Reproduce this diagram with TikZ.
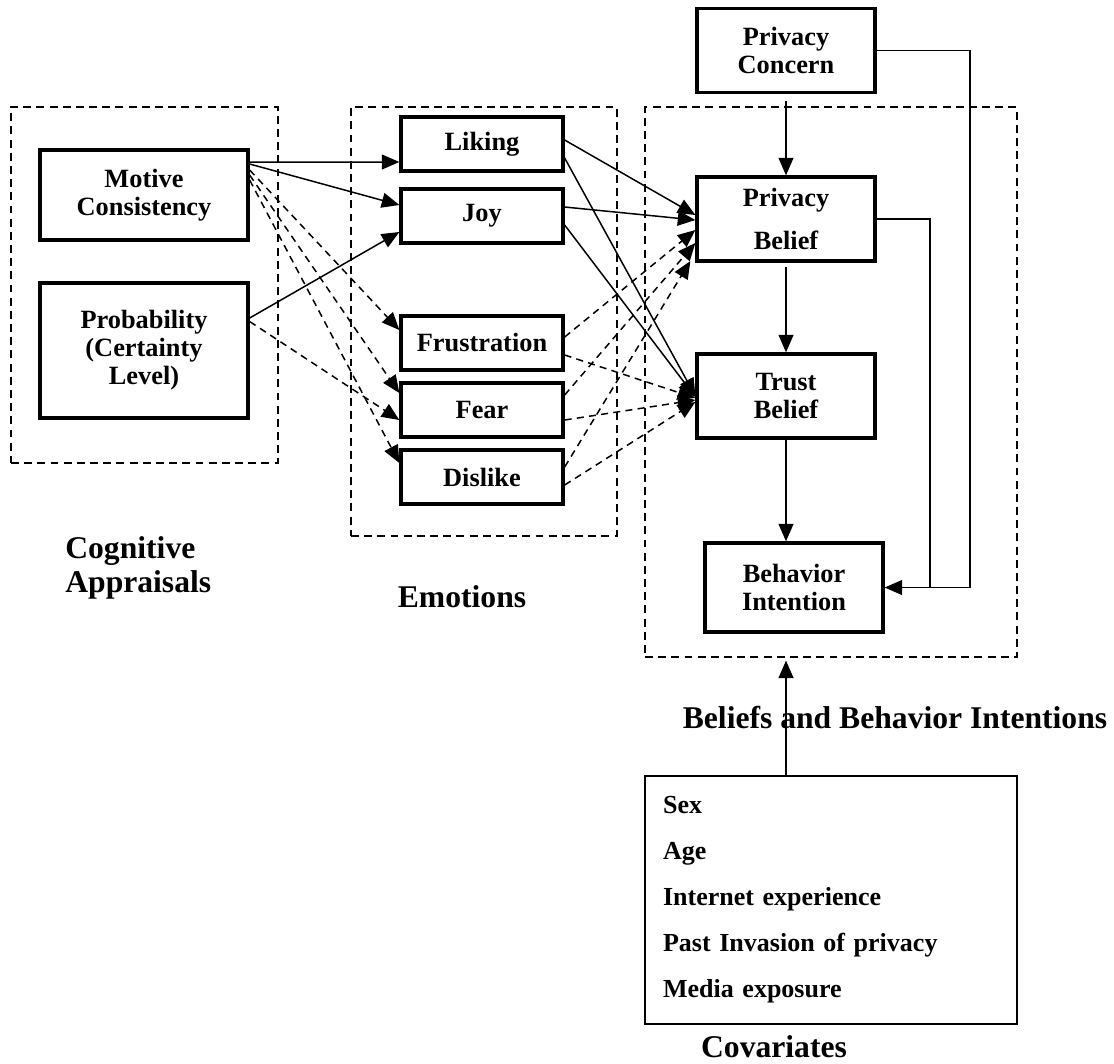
\documentclass[tikz,border=0pt]{standalone}
\usepackage{fontspec}
\setmainfont{Liberation Serif}
\usetikzlibrary{arrows.meta}

\begin{document}
\begin{tikzpicture}[x=0.02cm,y=-0.02cm,>={Triangle[length=10pt,width=8.5pt]}]
	\tikzstyle{box} = [draw=black,line width=1.9pt,align=center,font=\fontsize{15}{16}\selectfont\bfseries,inner sep=0pt];
	\tikzstyle{emo} = [box,minimum width=3.24cm,minimum height=1.08cm];
	\tikzstyle{bel} = [box,minimum width=3.56cm,minimum height=1.68cm];
	\tikzstyle{group} = [draw=black,line width=0.7pt,dash pattern=on 4.5pt off 3pt,inner sep=0pt];
	\tikzstyle{heading} = [font=\fontsize{18}{19}\selectfont\bfseries,align=left,inner sep=0pt];
	\tikzstyle{link} = [->,line width=0.85pt];
	\tikzstyle{dlink} = [link,dash pattern=on 4pt off 3pt];
	\useasboundingbox (0,0) rectangle (1114,1063);
	% dashed groups
	\node[group,minimum width=5.34cm,minimum height=7.12cm] (cgrp) at (144.5,285) {};
	\node[group,minimum width=5.32cm,minimum height=8.58cm] (egrp) at (484,321.5) {};
	\node[group,minimum width=7.44cm,minimum height=11cm] (bgrp) at (831,382) {};
	% appraisals
	\node[box,minimum width=4.16cm,minimum height=1.8cm] (mc) at (144,195) {Motive\\Consistency};
	\node[box,minimum width=4.16cm,minimum height=2.7cm] (prob) at (144,350.5) {Probability\\(Certainty\\Level)};
	% emotions
	\node[emo] (like) at (482,144) {Liking};
	\node[emo] (joy) at (482,216) {Joy};
	\node[emo] (frus) at (482,343) {Frustration};
	\node[emo] (fear) at (482,410) {Fear};
	\node[emo] (dis) at (482,477) {Dislike};
	% beliefs
	\node[bel] (pc) at (786,50.5) {Privacy\\Concern};
	\node[bel] (pb) at (786,219) {Privacy\\[8pt]Belief};
	\node[bel] (tb) at (786,396) {Trust\\Belief};
	\node[bel,minimum height=1.78cm] (bi) at (794,587.5) {Behavior\\Intention};
	\node[box,line width=1.1pt,align=left,text width=6.72cm,inner sep=0.36cm,minimum height=4.96cm,
		font=\fontsize{14.8}{26.2}\selectfont\bfseries] (cov) at (831,900)
		{Sex\\Age\\Internet experience\\Past Invasion of privacy\\Media exposure};
	% headings
	\node[heading,anchor=west] (hcog) at (65,568) {Cognitive\\Appraisals};
	\node[heading] (hemo) at (462,597) {Emotions};
	\node[heading] (hbel) at (895,717) {Beliefs and Behavior Intentions};
	\node[heading] (hcov) at (774,1047) {Covariates};
	% appraisals -> emotions
	\draw[link] ([yshift=0.66cm]mc.east) -- ([yshift=-0.36cm]like.west);
	\draw[link] ([yshift=0.62cm]mc.east) -- ([yshift=0.22cm]joy.west);
	\draw[link] ([yshift=0.65cm]prob.east) -- ([yshift=-0.32cm]joy.west);
	\draw[dlink] ([yshift=0.5cm]mc.east) -- ([yshift=0.26cm]frus.west);
	\draw[dlink] ([yshift=0.4cm]mc.east) -- ([yshift=0.34cm]fear.west);
	\draw[dlink] ([yshift=0.3cm]mc.east) -- ([yshift=0.28cm]dis.west);
	\draw[dlink] ([yshift=0.58cm]prob.east) -- ([yshift=-0.2cm]fear.west);
	% emotions -> beliefs
	\draw[link] ([yshift=0.08cm]like.east) -- ([yshift=0.08cm]pb.west);
	\draw[link] ([yshift=-0.28cm]like.east) -- (tb.west);
	\draw[link] ([yshift=0.18cm]joy.east) -- ([yshift=-0.02cm]pb.west);
	\draw[link] ([yshift=-0.18cm]joy.east) -- ([yshift=-0.02cm]tb.west);
	\draw[dlink] ([yshift=0.12cm]frus.east) -- ([yshift=-0.22cm]pb.west);
	\draw[dlink] ([yshift=-0.24cm]frus.east) -- ([yshift=-0.04cm]tb.west);
	\draw[dlink] ([yshift=0.3cm]fear.east) -- ([yshift=-0.48cm]pb.west);
	\draw[dlink] ([yshift=-0.2cm]fear.east) -- ([yshift=-0.08cm]tb.west);
	\draw[dlink] ([yshift=0.2cm]dis.east) -- ([yshift=-0.84cm,xshift=-0.1cm]pb.west);
	\draw[dlink] ([yshift=-0.16cm]dis.east) -- ([yshift=-0.12cm]tb.west);
	% beliefs
	\coordinate (pcturn) at (970,50.5);
	\coordinate (pbturn) at (930,219);
	\draw[link] ([yshift=-0.14cm]pc.south) -- (pb.north);
	\draw[link] ([yshift=-0.08cm]pb.south) -- (tb.north);
	\draw[link] (tb.south) -- (tb |- bi.north);
	\draw[link] (pc.east) -- (pcturn) |- (bi.east);
	\draw[line width=0.85pt] (pb.east) -- (pbturn) -- (pbturn |- bi.east);
	\draw[link] (cov.north -| tb) -- ([yshift=-0.06cm]bgrp.south -| tb);
\end{tikzpicture}
\end{document}
